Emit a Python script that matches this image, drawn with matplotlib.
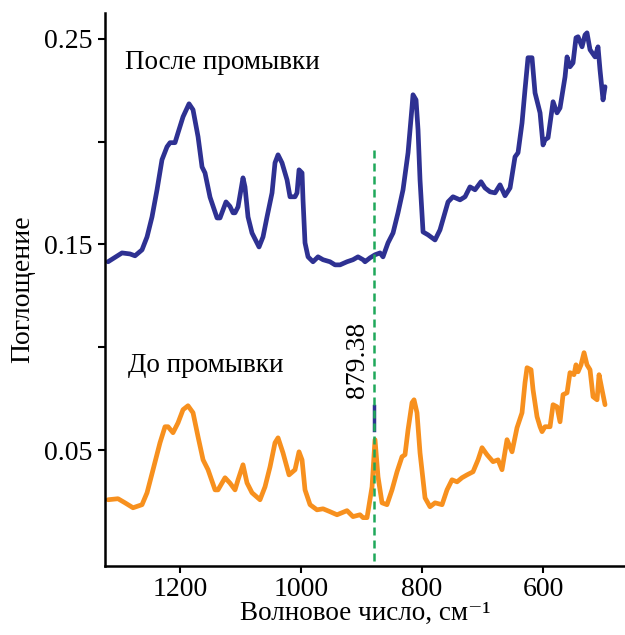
import matplotlib
matplotlib.use("Agg")
import matplotlib.pyplot as plt

# After washing (blue)
after_wn = [1319.0, 1295.9, 1282.6, 1274.4, 1262.8, 1254.5, 1246.3, 1238.0, 1229.8, 1221.5,
            1216.5, 1208.3, 1203.3, 1195.0, 1185.1, 1178.5, 1170.2, 1163.6, 1158.7, 1150.4,
            1138.8, 1133.9, 1124.0, 1117.4, 1112.4, 1109.1, 1104.1, 1095.9, 1092.6, 1087.6,
            1081.0, 1069.4, 1062.8, 1056.2, 1047.9, 1043.0, 1038.0, 1031.4, 1023.1, 1018.2,
            1009.9, 1006.6, 1003.3, 998.3, 996.7, 993.4, 988.4, 980.2, 971.9, 963.6,
            952.1, 943.8, 935.5, 924.0, 914.1, 905.8, 897.5, 894.2, 886.0, 877.7,
            869.4, 864.5, 856.2, 847.9, 839.7, 831.4, 823.1, 816.5, 814.9, 809.9,
            806.6, 803.3, 798.3, 790.1, 778.5, 770.3, 757.0, 748.8, 737.2, 728.9,
            720.7, 712.4, 702.5, 695.9, 687.6, 679.3, 671.1, 662.8, 654.5, 646.3,
            641.3, 634.7, 629.8, 624.8, 618.2, 613.2, 604.9, 600.0, 596.7, 591.7,
            583.4, 576.9, 571.9, 563.6, 560.3, 555.4, 550.4, 545.5, 542.1, 535.5,
            530.6, 527.3, 522.3, 514.0, 509.1, 505.8, 500.8, 497.5]
after_abs = [0.1416, 0.1459, 0.1454, 0.1445, 0.1474, 0.1537, 0.1634, 0.1766, 0.1912, 0.1975,
             0.1995, 0.1995, 0.2043, 0.2121, 0.2184, 0.2155, 0.2024, 0.1877, 0.1848, 0.1730,
             0.1629, 0.1629, 0.1707, 0.1685, 0.1654, 0.1654, 0.1683, 0.1824, 0.1780, 0.1634,
             0.1556, 0.1488, 0.1537, 0.1634, 0.1751, 0.1897, 0.1936, 0.1897, 0.1814, 0.1732,
             0.1732, 0.1751, 0.1863, 0.1848, 0.1717, 0.1508, 0.1440, 0.1416, 0.1440, 0.1426,
             0.1416, 0.1401, 0.1401, 0.1416, 0.1426, 0.1440, 0.1426, 0.1416, 0.1435, 0.1450,
             0.1459, 0.1440, 0.1508, 0.1556, 0.1654, 0.1766, 0.1946, 0.2169, 0.2228, 0.2203,
             0.2058, 0.1814, 0.1561, 0.1547, 0.1522, 0.1571, 0.1707, 0.1732, 0.1717, 0.1732,
             0.1780, 0.1766, 0.1805, 0.1775, 0.1756, 0.1751, 0.1790, 0.1737, 0.1775, 0.1926,
             0.1946, 0.2091, 0.2252, 0.2408, 0.2408, 0.2237, 0.2140, 0.1984, 0.2009, 0.2019,
             0.2194, 0.2140, 0.2164, 0.2315, 0.2412, 0.2364, 0.2383, 0.2505, 0.2510, 0.2461,
             0.2519, 0.2529, 0.2447, 0.2412, 0.2461, 0.2349, 0.2203, 0.2267]

# Before washing (orange)
before_wn = [1319.0, 1302.5, 1290.9, 1277.7, 1262.8, 1254.5, 1244.6, 1233.1, 1224.8, 1219.8,
             1211.6, 1203.3, 1195.0, 1186.8, 1178.5, 1170.2, 1161.9, 1153.7, 1142.1, 1137.2,
             1125.6, 1117.4, 1109.1, 1104.1, 1095.9, 1089.3, 1081.0, 1067.8, 1059.5, 1051.2,
             1043.0, 1038.0, 1029.8, 1019.8, 1009.9, 1003.3, 998.3, 993.4, 985.1, 973.6,
             963.6, 952.1, 940.5, 932.2, 924.0, 914.1, 902.5, 897.5, 890.9, 882.6,
             877.7, 872.7, 866.1, 857.9, 849.6, 841.3, 833.1, 828.1, 823.1, 816.5,
             813.2, 808.3, 803.3, 795.0, 786.8, 778.5, 766.9, 758.7, 750.4, 742.1,
             733.9, 725.6, 715.7, 707.4, 700.8, 692.6, 682.6, 674.4, 667.8, 659.5,
             651.2, 643.0, 634.7, 629.8, 626.4, 619.8, 616.5, 609.9, 604.9, 601.6,
             596.7, 588.4, 583.4, 576.9, 571.9, 566.9, 560.3, 555.4, 548.8, 545.5,
             542.1, 537.2, 532.2, 527.3, 522.3, 517.3, 510.7, 507.4, 502.5, 497.5]
before_abs = [0.0259, 0.0264, 0.0244, 0.0220, 0.0235, 0.0293, 0.0405, 0.0536, 0.0614, 0.0614,
              0.0585, 0.0633, 0.0697, 0.0716, 0.0682, 0.0565, 0.0453, 0.0405, 0.0307, 0.0307,
              0.0366, 0.0340, 0.0307, 0.0356, 0.0429, 0.0341, 0.0293, 0.0259, 0.0322, 0.0419,
              0.0536, 0.0560, 0.0487, 0.0380, 0.0405, 0.0492, 0.0453, 0.0307, 0.0235, 0.0210,
              0.0215, 0.0201, 0.0186, 0.0196, 0.0206, 0.0177, 0.0186, 0.0172, 0.0172, 0.0322,
              0.0551, 0.0370, 0.0244, 0.0235, 0.0307, 0.0395, 0.0468, 0.0478, 0.0599, 0.0731,
              0.0745, 0.0682, 0.0487, 0.0268, 0.0225, 0.0244, 0.0235, 0.0307, 0.0356, 0.0346,
              0.0366, 0.0380, 0.0395, 0.0453, 0.0512, 0.0478, 0.0444, 0.0453, 0.0405, 0.0551,
              0.0492, 0.0609, 0.0682, 0.0828, 0.0901, 0.0891, 0.0794, 0.0663, 0.0614, 0.0590,
              0.0614, 0.0614, 0.0721, 0.0711, 0.0638, 0.0770, 0.0779, 0.0877, 0.0867, 0.0915,
              0.0881, 0.0915, 0.0974, 0.0915, 0.0891, 0.0760, 0.0745, 0.0867, 0.0794, 0.0721]

marker_wn = 879.38
marker_label = "879.38"
blue_seg = [0.0598, 0.0715]
marker_top = 0.197

yticks = [0.05, 0.10, 0.15, 0.20, 0.25]
ytick_labels = ["0.05", "", "0.15", "", "0.25"]
xticks = [1200, 1000, 800, 600]
xtick_labels = ["1200", "1000", "800", "600"]

plt.rcParams['font.family'] = ['Liberation Serif', 'DejaVu Serif']

fig = plt.figure(figsize=(6.25, 6.35), dpi=100)
ax = fig.add_axes([0.168, 0.1087, 0.832, 0.871])

blue = '#2e3192'
orange = '#f7901e'
green = '#1fa85a'

ax.plot(after_wn, after_abs, color=blue, lw=3.4, solid_joinstyle='round', solid_capstyle='round')
ax.plot(before_wn, before_abs, color=orange, lw=3.4, solid_joinstyle='round', solid_capstyle='round')
ax.plot([marker_wn, marker_wn], blue_seg, color=blue, lw=2.5)
ax.plot([marker_wn, marker_wn], [-0.01, marker_top], color=green, lw=1.8,
        linestyle=(0, (3.2, 2.0)))

ax.text(907, 0.094, marker_label, rotation=90, ha='center', va='center', fontsize=20)
ax.text(1291, 0.2383, "После промывки", ha='left', va='center', fontsize=19.5)
ax.text(1286, 0.0914, "До промывки", ha='left', va='center', fontsize=19.5)

ax.set_xlim(1324, 464.5)
ax.set_ylim(-0.0063, 0.2626)
ax.set_xticks(xticks)
ax.set_xticklabels(xtick_labels)
ax.set_yticks(yticks)
ax.set_yticklabels(ytick_labels)
ax.tick_params(axis='both', labelsize=20, width=1.5, length=5, direction='out')
ax.tick_params(axis='x', pad=3)
ax.tick_params(axis='y', pad=4)

for s in ['top', 'right']:
    ax.spines[s].set_visible(False)
for s in ['left', 'bottom']:
    ax.spines[s].set_linewidth(1.8)

ax.set_xlabel("Волновое число, см⁻¹", fontsize=19.5, labelpad=-1)
ax.set_ylabel("Поглощение", fontsize=20, labelpad=6)

fig.savefig("out.png", dpi=100)
